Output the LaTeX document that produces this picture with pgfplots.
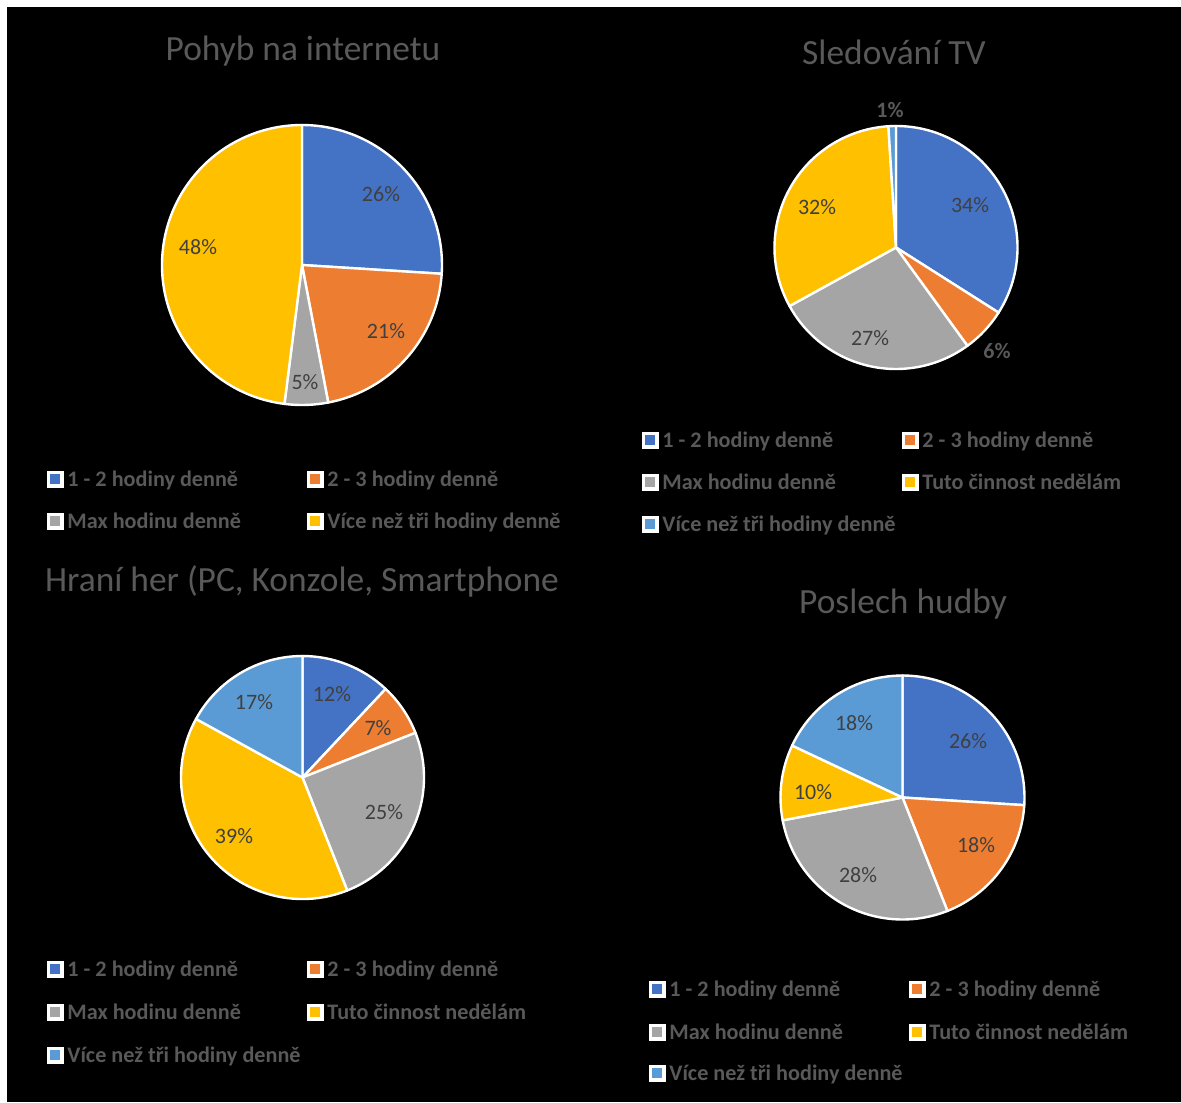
\documentclass[border=0pt]{standalone}
\usepackage{pgfplots}
\usepackage{pgfplotstable}
\pgfplotsset{compat=1.18}
\usepackage{fontspec}
\setmainfont{Carlito}
\definecolor{cBlue}{HTML}{4472C4}
\definecolor{cOrange}{HTML}{ED7D31}
\definecolor{cGray}{HTML}{A5A5A5}
\definecolor{cYellow}{HTML}{FFC000}
\definecolor{cLBlue}{HTML}{5B9BD5}
\definecolor{labDark}{HTML}{404040}
\definecolor{txtGray}{HTML}{595959}
\tikzset{
  lin/.style={font=\fontsize{11pt}{13pt}\selectfont, text=labDark, inner sep=0pt},
  lout/.style={font=\bfseries\fontsize{11pt}{13pt}\selectfont, text=txtGray, inner sep=0pt},
  ttl/.style={font=\fontsize{17.7pt}{20pt}\selectfont, text=txtGray, inner sep=0pt, anchor=base},
  legtext/.style={font=\bfseries\fontsize{11.1pt}{13pt}\selectfont, text=txtGray, inner sep=0pt, anchor=base west}
}
% value, colour, label x, label y (pixels), label style
\pgfplotstableread{
v c lx ly lf
26 cBlue 381 194 lin
21 cOrange 386 331 lin
5 cGray 305 382 lin
48 cYellow 198 247 lin
}\tabA
\pgfplotstableread{
v c lx ly lf
34 cBlue 970 205 lin
6 cOrange 997 351 lout
27 cGray 870 338 lin
32 cYellow 817 207 lin
1 cLBlue 890 110 lout
}\tabB
\pgfplotstableread{
v c lx ly lf
12 cBlue 332 694 lin
7 cOrange 378 728 lin
25 cGray 384 812 lin
39 cYellow 234 836 lin
17 cLBlue 254 702 lin
}\tabC
\pgfplotstableread{
v c lx ly lf
26 cBlue 968 741 lin
18 cOrange 976 845 lin
28 cGray 858 875 lin
10 cYellow 813 792 lin
18 cLBlue 854 723 lin
}\tabD
% #1 table, #2 cx, #3 cy, #4 radius (px)
\newcommand\pie[4]{%
  \pgfplotstablegetrowsof{#1}\let\pnrows\pgfplotsretval
  \pgfmathtruncatemacro\plast{\pnrows-1}%
  \def\pcum{0}%
  \pgfplotsforeachungrouped \pi in {0,...,\plast}{%
    \pgfplotstablegetelem{\pi}{v}\of{#1}\let\pv\pgfplotsretval
    \pgfplotstablegetelem{\pi}{c}\of{#1}\let\pc\pgfplotsretval
    \pgfmathsetmacro\wA{90-3.6*\pcum}%
    \pgfmathsetmacro\pcum{\pcum+\pv}%
    \pgfmathsetmacro\wB{90-3.6*\pcum}%
    \edef\ptemp{\noexpand\filldraw[fill=\pc, draw=white, line width=1.2pt, line join=round]
      (axis cs:#2,#3) -- ([shift={(\wA:#4*0.5pt)}]axis cs:#2,#3)
      arc[start angle=\wA, end angle=\wB, radius=#4*0.5pt] -- cycle;}%
    \ptemp
  }%
  \pgfplotsforeachungrouped \pi in {0,...,\plast}{%
    \pgfplotstablegetelem{\pi}{v}\of{#1}\let\pv\pgfplotsretval
    \pgfplotstablegetelem{\pi}{lx}\of{#1}\let\plx\pgfplotsretval
    \pgfplotstablegetelem{\pi}{ly}\of{#1}\let\ply\pgfplotsretval
    \pgfplotstablegetelem{\pi}{lf}\of{#1}\let\plf\pgfplotsretval
    \edef\ptemp{\noexpand\node[\plf] at (axis cs:\plx,\ply) {\pv\noexpand\%};}%
    \ptemp
  }%
}
% #1 x, #2 baseline y, #3 colour, #4 text
\newcommand\legitem[4]{%
  \filldraw[fill=#3, draw=white, line width=1.6pt] (axis cs:{#1+1.5},{#2-13.5}) rectangle (axis cs:{#1+15},{#2});
  \node[legtext] at (axis cs:{#1+20},{#2}) {#4};
}
\begin{document}
\begin{tikzpicture}
\fill[white] (0,0) rectangle (590.5pt,551pt);
\fill[black] (3.7pt,0) rectangle (590.5pt,547.3pt);
\begin{axis}[at={(0,0)}, anchor=south west, width=590.5pt, height=551pt,
  scale only axis, xmin=0, xmax=1181, ymin=0, ymax=1102, y dir=reverse,
  hide axis, clip=false]
\pie{\tabA}{302}{265}{140}
\pie{\tabB}{896}{247.5}{121.5}
\pie{\tabC}{302.5}{777.5}{121.5}
\pie{\tabD}{902.5}{797.5}{122}
\node[ttl] at (axis cs:303,61) {Pohyb na internetu};
\node[ttl] at (axis cs:894,65) {Sledování TV};
\node[ttl] at (axis cs:302,591) {Hraní her (PC, Konzole,\ Smartphone};
\node[ttl] at (axis cs:903,613) {Poslech hudby};
% legends
\legitem{47}{486}{cBlue}{1 - 2 hodiny denně}
\legitem{307}{486}{cOrange}{2 - 3 hodiny denně}
\legitem{47}{528}{cGray}{Max hodinu denně}
\legitem{307}{528}{cYellow}{Více než tři hodiny denně}
\legitem{642}{447}{cBlue}{1 - 2 hodiny denně}
\legitem{902}{447}{cOrange}{2 - 3 hodiny denně}
\legitem{642}{489}{cGray}{Max hodinu denně}
\legitem{902}{489}{cYellow}{Tuto činnost nedělám}
\legitem{642}{531}{cLBlue}{Více než tři hodiny denně}
\legitem{47}{976}{cBlue}{1 - 2 hodiny denně}
\legitem{307}{976}{cOrange}{2 - 3 hodiny denně}
\legitem{47}{1019}{cGray}{Max hodinu denně}
\legitem{307}{1019}{cYellow}{Tuto činnost nedělám}
\legitem{47}{1062}{cLBlue}{Více než tři hodiny denně}
\legitem{649}{996}{cBlue}{1 - 2 hodiny denně}
\legitem{909}{996}{cOrange}{2 - 3 hodiny denně}
\legitem{649}{1039}{cGray}{Max hodinu denně}
\legitem{909}{1039}{cYellow}{Tuto činnost nedělám}
\legitem{649}{1080}{cLBlue}{Více než tři hodiny denně}
\end{axis}
\end{tikzpicture}
\end{document}
